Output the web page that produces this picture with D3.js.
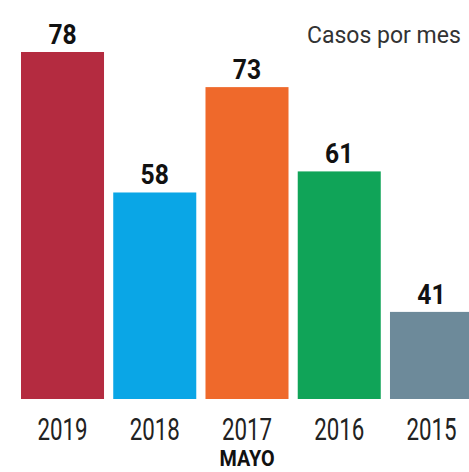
<!DOCTYPE html>
<html>
<head>
<meta charset="utf-8">
<script src="https://cdn.jsdelivr.net/npm/d3@7"></script>
<style>
  body { margin: 0; background: #fff; }
  svg { display: block; }
</style>
</head>
<body>
<svg id="chart" width="469" height="472"></svg>
<script>
// data
const years = ['2019', '2018', '2017', '2016', '2015'];
const cases = [78, 58, 73, 61, 41];
const barColours = ['#b42b40', '#0aa6e6', '#ef692b', '#10a458', '#6d8a9a'];
const title = 'Casos por mes';
const month = 'MAYO';

const svg = d3.select('#chart');

const x = d3.scaleBand()
    .domain(years)
    .range([21, 473])
    .paddingInner(0.1)
    .paddingOuter(0);

// the baseline is not zero in the original
const y = d3.scaleLinear()
    .domain([28.6, 78])
    .range([399, 52]);

const colour = d3.scaleOrdinal()
    .domain(years)
    .range(barColours);

const rows = years.map((yr, i) => ({ year: yr, value: cases[i] }));

svg.selectAll('.bar')
    .data(rows)
    .enter().append('rect')
    .attr('class', 'bar')
    .attr('x', d => x(d.year))
    .attr('width', x.bandwidth())
    .attr('y', d => y(d.value))
    .attr('height', d => y.range()[0] - y(d.value))
    .attr('fill', d => colour(d.year));

svg.selectAll('.val')
    .data(rows)
    .enter().append('text')
    .attr('class', 'val')
    .attr('transform', d => `translate(${x(d.year) + x.bandwidth() / 2},${y(d.value) - 8}) scale(0.88,1)`)
    .attr('text-anchor', 'middle')
    .style('font-family', 'Roboto, sans-serif')
    .style('font-weight', 'bold')
    .style('font-size', '28px')
    .attr('fill', '#111')
    .text(d => d.value);

// year axis
const axis = svg.append('g')
    .attr('transform', `translate(0,${y.range()[0]})`)
    .call(d3.axisBottom(x).tickSize(0).tickPadding(0));
axis.select('.domain').remove();
axis.selectAll('text')
    .attr('y', 41)
    .attr('dy', null)
    .attr('transform', 'scale(0.72,1)')
    .style('font-family', 'Roboto, sans-serif')
    .style('font-size', '31px')
    .attr('fill', '#222');

svg.append('text')
    .attr('transform', `translate(247,466) scale(0.9,1)`)
    .attr('text-anchor', 'middle')
    .style('font-family', 'Roboto, sans-serif')
    .style('font-weight', 'bold')
    .style('font-size', '22px')
    .attr('fill', '#111')
    .text(month);

svg.append('text')
    .attr('x', 307)
    .attr('y', 43)
    .style('font-family', 'Roboto, sans-serif')
    .style('font-size', '23px')
    .attr('fill', '#333')
    .text(title);
</script>
</body>
</html>
